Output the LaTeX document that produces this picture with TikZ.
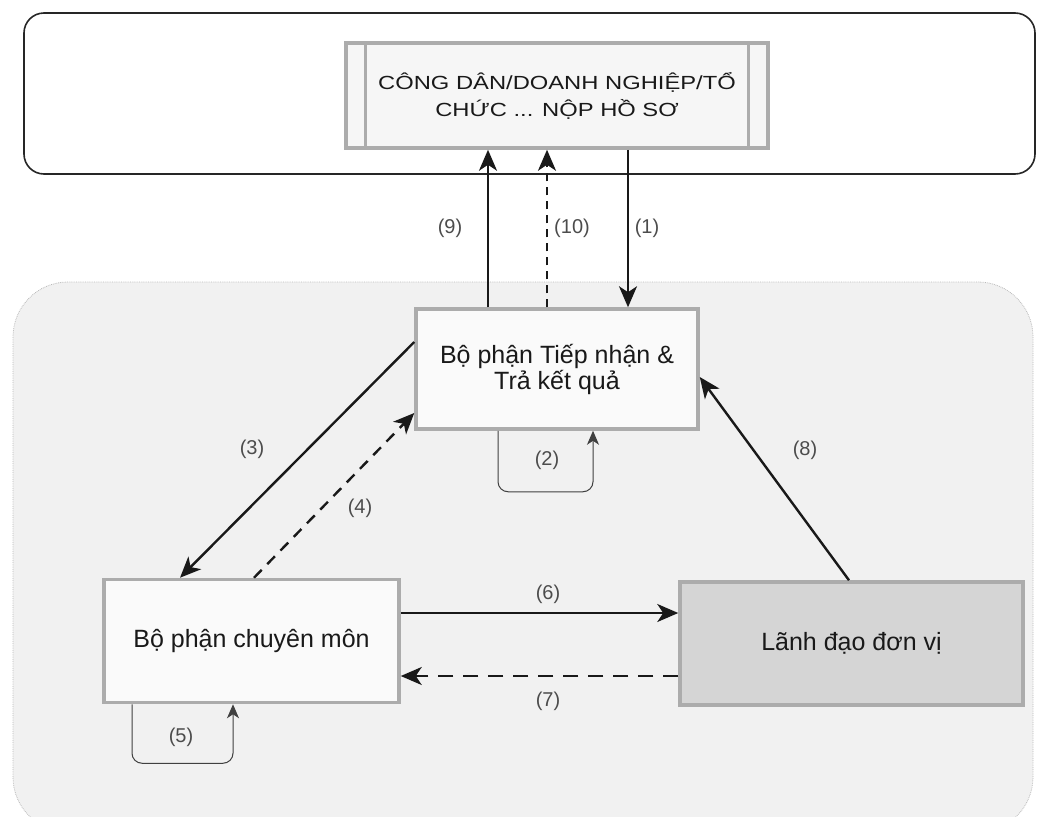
\documentclass[tikz,border=0pt]{standalone}
\usepackage{fontspec}
\setmainfont{Liberation Sans}
\usetikzlibrary{arrows.meta}
\tikzset{
  box/.style={draw=gray!65, line width=3.5pt, fill=gray!4, inner sep=0pt, align=center,
    font=\fontsize{25}{26}\selectfont, text=black!90},
  arr/.style={line width=2.4pt, draw=black!90, -{Stealth[length=21pt,width=18pt,inset=6pt]}},
  dsh/.style={arr, dash pattern=on 11pt off 8pt},
  loopline/.style={line width=1pt, draw=black!75, rounded corners=10pt, -{Stealth[length=14pt,width=12pt,inset=4pt]}},
  lab/.style={font=\fontsize{20}{22}\selectfont, text=black!70, inner sep=0pt},
}
\begin{document}
\begin{tikzpicture}[x=1pt,y=-1pt]
\useasboundingbox (0,0) rectangle (1037,817);
\begin{scope}
\clip (0,0) rectangle (1037,817);
% lower region
\draw[fill=gray!11, draw=gray!55, densely dotted, line width=0.8pt, rounded corners=55pt] (13,282) rectangle (1033,832);
% top region
\draw[line width=1.6pt, draw=black!85, fill=white, rounded corners=20pt] (24,13) rectangle (1035,174);
\end{scope}

% nodes
\node[box, minimum width=422pt, minimum height=105pt, fill=gray!7] (top) at (557,95.5)
  {\fontsize{19}{20}\selectfont\scalebox{1.25}[1]{CÔNG DÂN/DOANH NGHIỆP/TỔ}\\[1pt]
   \fontsize{19}{20}\selectfont\scalebox{1.25}[1]{CHỨC ... NỘP HỒ SƠ}};
\draw[gray!65, line width=3pt] ([xshift=21pt]top.north west) -- ([xshift=21pt]top.south west);
\draw[gray!65, line width=3pt] ([xshift=-21pt]top.north east) -- ([xshift=-21pt]top.south east);

\node[box, minimum width=282pt, minimum height=120pt] (mid) at (557,369)
  {Bộ phận Tiếp nhận \&\\Trả kết quả};
\node[box, minimum width=295pt, minimum height=123pt] (left) at (251.5,641)
  {Bộ phận chuyên môn};
\node[box, minimum width=343pt, minimum height=123pt, fill=gray!33] (right) at (851.5,643.5)
  {Lãnh đạo đơn vị};

% connectors
\draw[arr] ([xshift=71pt]top.south) -- ([xshift=71pt]mid.north);
\draw[arr] ([xshift=-69pt]mid.north) -- ([xshift=-69pt]top.south);
\draw[dsh, dash pattern=on 8pt off 6pt] ([xshift=-10pt]mid.north) -- ([xshift=-10pt]top.south);
\draw[arr] ([yshift=27pt]mid.west) -- ([xshift=-71.5pt]left.north);
\draw[dsh] ([xshift=2.5pt]left.north) -- ([yshift=-44pt]mid.west);
\draw[arr] ([yshift=28pt]left.east) -- ([yshift=30.5pt]right.west);
\draw[dsh, dash pattern=on 15pt off 10pt] ([yshift=-32.5pt]right.west) -- ([yshift=-35pt]left.east);
\draw[arr] ([xshift=-2.5pt]right.north) -- ([yshift=-8pt]mid.east);
\draw[loopline] ([xshift=-59pt]mid.south) -- ++(0,61) -| ([xshift=36pt]mid.south);
\draw[loopline] ([xshift=-119.5pt]left.south) -- ++(0,59) -| ([xshift=-18.5pt]left.south);

% labels
\node[lab] (l9) at (450,228) {(9)};
\node[lab] (l10) at (572,228) {(10)};
\node[lab] (l1) at (647,228) {(1)};
\node[lab] (l2) at (547,460) {(2)};
\node[lab] (l3) at (252,449) {(3)};
\node[lab] (l4) at (360,508) {(4)};
\node[lab] (l5) at (181,737) {(5)};
\node[lab] (l6) at (548,594) {(6)};
\node[lab] (l7) at (548,701) {(7)};
\node[lab] (l8) at (805,450) {(8)};
\end{tikzpicture}
\end{document}
